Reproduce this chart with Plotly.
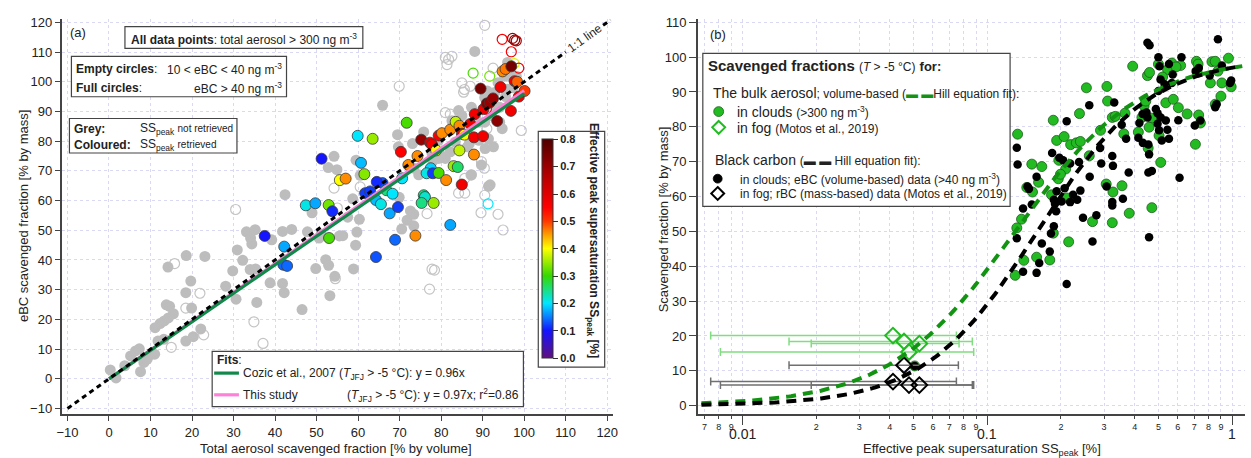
import numpy as np
import plotly.graph_objects as go

W, H = 1251, 458
FONT = "Liberation Sans, Arial, sans-serif"

# ---------------- panel (a): eBC vs total aerosol scavenged fraction ----------------
grey_full_x = [0.3, 1.7, 3.8, 5.2, 6.4, 7.3, 7.6, 8.4, 9.2, 10.2, 11.0, 11.1, 12.3, 13.3, 13.8, 14.6, 14.2,
               15.5, 14.3, 11.8, 13.2, 18.5, 18.5, 18.6, 19.7, 19.9, 20.3, 22.1, 23.1, 28.1, 29.8, 30.6,
               30.9, 32.2, 33.1, 34.1, 34.4, 34.0, 35.3, 35.2, 35.6, 38.8, 39.2,
               41.8, 41.8, 42.2, 42.4, 44.0, 46.5, 47.8, 48.9, 49.8, 50.6, 52.2, 52.9, 53.2, 52.8, 54.2,
               54.9, 54.4, 55.5, 57.5, 58.7, 58.9, 59.4, 59.7, 59.5, 60.3, 60.5, 51.1, 56.3, 65.9,
               88.1, 71.8, 73.4, 70.5, 72.6, 69.9, 69.5, 69.7, 73.1, 73.4, 74.6, 78.0, 79.4, 81.0, 82.2,
               86.3, 86.8, 89.1, 90.6, 92.6, 91.4, 89.1, 88.3, 90.5, 87.3, 90.5, 91.1, 92.9, 93.7, 95.3,
               96.0, 96.8, 98.1, 97.3, 94.1, 94.1, 94.7, 92.1, 85.0, 84.2, 82.6, 86.4, 83.4, 79.4, 75.8,
               77.8, 79.8, 89.7, 87.3, 91.4, 91.8, 73.4, 95.5, 93.0, 96.0]
grey_full_y = [3.0, 0.3, 4.4, 7.7, 9.4, 10.1, 2.4, 5.5, 6.6, 8.3, 8.3, 17.2, 18.6, 19.5, 24.9, 24.4, 37.6,
               21.9, 20.5, 12.7, 13.3, 12.7, 29.0, 41.5, 32.9, 23.8, 14.2, 16.8, 41.2, 31.2, 36.3, 26.8,
               43.4, 39.9, 49.5, 47.4, 45.4, 36.8, 37.0, 50.2, 25.7, 32.3, 46.8,
               49.6, 32.1, 29.0, 62.0, 50.3, 23.3, 49.5, 55.9, 37.1, 47.4, 40.1, 38.2, 28.0, 71.1, 74.9,
               70.4, 34.5, 48.1, 54.4, 60.6, 37.0, 45.0, 49.4, 73.6, 53.7, 68.5, 48.7, 48.2, 92.1,
               110.2, 53.4, 51.5, 50.4, 56.5, 61.1, 82.2, 78.1, 79.2, 70.9, 68.7, 73.3, 74.2, 74.2, 76.4,
               78.1, 79.2, 80.3, 77.5, 78.1, 80.8, 86.4, 88.1, 86.4, 91.4, 94.7, 96.9, 96.4, 99.7, 101.9,
               106.5, 101.9, 101.9, 98.0, 91.4, 86.4, 84.2, 88.6, 88.6, 90.3, 86.9, 82.5, 79.7, 80.3, 83.1,
               75.9, 75.5, 72.0, 68.7, 64.8, 65.3, 55.4, 95.0, 92.0, 97.5]

grey_empty_x = [15.8, 18.5, 21.9, 22.8, 15.0, 30.5, 34.9, 37.1, 54.2, 54.5, 55.0, 60.5, 81.0, 81.8, 82.6,
                81.4, 69.9, 81.0, 82.2, 85.0, 85.6, 87.0, 92.5, 99.3, 89.7, 90.4, 85.7, 87.2, 84.8, 84.2,
                85.7, 90.5, 89.6, 93.7, 94.9, 76.6, 77.8, 78.4, 77.2, 91.0, 90.5, 85.4]
grey_empty_y = [38.8, 23.8, 28.8, 14.8, 10.6, 57.0, 19.2, 11.9, 64.2, 33.7, 57.5, 64.6, 108.2, 107.5, 108.6,
                105.8, 98.5, 89.6, 89.1, 99.6, 97.4, 98.5, 104.6, 83.6, 73.1, 70.9, 67.5, 68.6, 65.4, 62.5,
                62.5, 61.8, 55.9, 55.4, 50.1, 55.6, 36.9, 36.6, 30.2, 84.2, 119.0, 96.5]

col_full_x = [51.2, 59.9, 63.5, 60.7, 61.5, 55.6, 57.0, 47.4, 49.7, 52.9, 53.8, 37.5, 42.2, 42.0, 42.9,
              53.0, 61.7, 62.9, 64.3, 65.5, 65.9, 66.8, 68.3, 67.6, 69.6, 64.3, 68.9, 73.8, 71.7, 70.3,
              72.1, 74.3, 75.2, 77.3, 77.8, 78.8, 79.4, 80.2, 82.2, 83.5, 84.4, 85.0, 85.6, 84.4, 87.0,
              87.9, 88.1, 89.5, 90.2, 91.0, 91.7, 92.5, 93.5, 94.3, 94.8, 95.5, 96.9, 97.7, 98.3, 98.7,
              96.8, 100.1, 87.9, 77.5, 76.5, 78.0, 79.4, 83.0, 84.0, 81.2, 85.0, 75.8, 76.1, 75.3, 78.2,
              82.2, 70.6, 64.5, 90.1]
col_full_y = [74.1, 81.8, 80.8, 72.7, 68.9, 66.9, 67.4, 58.4, 59.1, 58.5, 56.4, 48.1, 44.5, 38.4, 38.0,
              47.4, 62.5, 63.1, 60.2, 58.8, 65.9, 63.5, 62.3, 55.7, 57.8, 41.0, 46.8, 48.2, 86.2, 76.4,
              72.0, 75.0, 80.5, 79.5, 78.8, 76.9, 81.9, 82.7, 83.9, 86.5, 85.2, 82.5, 82.2, 76.9, 85.8,
              81.3, 89.1, 97.7, 90.8, 92.7, 93.0, 94.4, 86.8, 98.2, 103.5, 104.3, 105.2, 100.2, 100.0, 95.0,
              90.2, 96.9, 75.5, 70.9, 69.2, 69.2, 69.3, 71.6, 71.3, 66.9, 65.4, 61.8, 61.2, 59.2, 59.2,
              51.8, 67.5, 66.3, 81.7]
col_full_ss = [0.10, 0.20, 0.35, 0.18, 0.34, 0.40, 0.46, 0.21, 0.17, 0.33, 0.11, 0.10, 0.17, 0.14, 0.14,
               0.31, 0.12, 0.12, 0.18, 0.21, 0.13, 0.25, 0.20, 0.17, 0.12, 0.13, 0.14, 0.46, 0.31, 0.55,
               0.46, 0.46, 0.70, 0.60, 0.56, 0.40, 0.56, 0.46, 0.46, 0.37, 0.46, 0.57, 0.40, 0.37, 0.57,
               0.57, 0.57, 0.75, 0.57, 0.72, 0.70, 0.70, 0.72, 0.57, 0.46, 0.47, 0.75, 0.57, 0.48, 0.57,
               0.57, 0.50, 0.46, 0.19, 0.21, 0.12, 0.31, 0.35, 0.26, 0.46, 0.57, 0.25, 0.22, 0.25, 0.35,
               0.17, 0.20, 0.11, 0.57]

col_empty_x = [94.7, 97.2, 97.7, 98.1, 96.9, 97.6, 98.7, 87.7, 91.7, 90.9, 91.3]
col_empty_y = [114.3, 114.6, 114.0, 113.8, 110.1, 106.1, 104.6, 102.9, 101.9, 90.8, 58.9]
col_empty_ss = [0.56, 0.70, 0.72, 0.68, 0.56, 0.38, 0.56, 0.31, 0.33, 0.58, 0.20]

fit_x = [0, 100]
slope_cozic = 0.96
slope_study = 0.97
one_to_one_lo = [-10, 110]
one_to_one_hi = [119, 120.8]

# ---------------- panel (b): scavenged fraction vs SS_peak ----------------
bulk_cloud_ss = [0.133, 0.186, 0.238, 0.310, 0.192, 0.206, 0.219, 0.231, 0.240, 0.261, 0.290, 0.324, 0.333,
                 0.365, 0.428, 0.437, 0.444, 0.470, 0.458, 0.536, 0.575, 0.603, 0.655, 0.730, 0.742, 0.708,
                 0.853, 0.900, 0.414, 0.361, 0.503, 0.511, 0.454, 0.152, 0.167, 0.162, 0.153, 0.145, 0.138,
                 0.132, 0.141, 0.130, 0.159, 0.180, 0.186, 0.215, 0.211, 0.183, 0.196, 0.209, 0.195, 0.199,
                 0.306, 0.326, 0.355, 0.380, 0.324, 0.269, 0.470,
                 0.3925, 0.50, 0.567, 0.616, 0.715, 0.726, 0.827, 0.853, 0.966, 0.875, 0.815, 0.908, 0.991,
                 0.451, 0.46, 0.545, 0.59, 0.72, 0.52, 0.254, 0.308, 0.0505]
bulk_cloud_sf = [77.9, 81.9, 83.8, 87.4, 76.1, 77.2, 74.9, 75.4, 75.8, 71.7, 79.0, 82.7, 83.0,
                 83.9, 82.7, 86.0, 87.4, 82.5, 79.9, 86.9, 87.9, 85.5, 83.7, 83.4, 81.1, 75.0,
                 86.5, 88.8, 78.5, 78.0, 77.5, 69.8, 73.9, 69.3, 68.6, 64.1, 61.3, 62.6, 53.5,
                 51.0, 41.7, 37.4, 42.6, 41.8, 49.5, 47.0, 59.6, 60.5, 70.4, 67.9, 65.1, 66.4,
                 63.6, 61.3, 63.1, 55.2, 52.5, 52.8, 56.8,
                 97.4, 98.0, 98.3, 97.6, 98.8, 98.0, 98.7, 98.8, 99.7, 96.0, 92.6, 92.6, 91.5,
                 94.7, 95.6, 96.4, 97.2, 95.6, 94.3, 91.2, 91.6, 11.4]

bc_cloud_ss = [0.261, 0.211, 0.132, 0.133, 0.184, 0.197, 0.204, 0.218, 0.237, 0.262, 0.289, 0.292, 0.324,
               0.326, 0.378, 0.354, 0.369, 0.414, 0.432, 0.455, 0.458, 0.455, 0.470, 0.418, 0.431, 0.447,
               0.451, 0.488, 0.496, 0.496, 0.511, 0.503, 0.536, 0.544, 0.516, 0.552, 0.603, 0.610, 0.704,
               0.742, 0.864, 0.853, 0.159, 0.146, 0.148, 0.140, 0.152, 0.187, 0.192, 0.189, 0.201, 0.207,
               0.218, 0.224, 0.233, 0.240, 0.246, 0.279, 0.324, 0.324, 0.358, 0.307, 0.191, 0.187, 0.182,
               0.167, 0.180, 0.163, 0.159, 0.140, 0.132, 0.211, 0.458, 0.269,
               0.451, 0.46, 0.875, 0.50, 0.621, 0.552, 0.505, 0.731, 0.908, 0.991, 0.71, 0.81, 0.572,
               0.51, 0.53, 0.567, 0.50, 0.98, 0.33, 0.0505]
bc_cloud_sf = [86.2, 81.6, 74.0, 69.2, 72.5, 71.1, 70.4, 69.5, 69.9, 65.7, 73.9, 69.5, 71.6,
               68.8, 66.9, 80.6, 76.6, 76.9, 75.4, 74.9, 72.1, 66.9, 67.3, 81.1, 83.7, 84.1,
               82.7, 85.1, 83.9, 80.9, 82.7, 79.0, 81.8, 79.2, 76.1, 76.6, 81.9, 65.4, 80.4,
               81.8, 86.5, 85.6, 65.7, 62.9, 62.2, 56.6, 57.7, 59.1, 61.5, 57.9, 58.6, 62.4,
               58.4, 60.5, 59.1, 61.7, 53.9, 54.6, 58.4, 57.4, 59.4, 62.9, 55.8, 51.5, 49.4,
               46.5, 44.2, 40.9, 38.1, 38.4, 48.0, 34.9, 48.3, 47.1,
               104.1, 103.4, 105.1, 100.0, 100.0, 98.0, 97.4, 96.9, 97.6, 93.3, 96.0, 94.7, 95.0,
               93.6, 92.2, 92.6, 90.3, 92.6, 87.0, 11.4]

fog_bulk_ss = [0.0412, 0.0457, 0.0528, 0.0479]
fog_bulk_sf = [20.1, 18.4, 17.8, 15.4]
fog_bulk_ss_lo = [0.00742, 0.0155, 0.0191, 0.00813]
fog_bulk_ss_hi = [0.0748, 0.0869, 0.0767, 0.0880]

fog_bc_ss = [0.0457, 0.0412, 0.0479, 0.0528]
fog_bc_sf = [11.6, 6.9, 5.9, 5.9]
fog_bc_ss_lo = [0.0155, 0.00742, 0.00813, 0.0191]
fog_bc_ss_hi = [0.0762, 0.0748, 0.0880, 0.0869]

# Hill equation fit parameters: (max, half-saturation SS, Hill coefficient)
hill_bulk = (100.0, 0.13, 1.7)
hill_bc = (100.0, 0.16, 1.9)

ss_minor_ticks = [0.007, 0.008, 0.009, 0.02, 0.03, 0.04, 0.05, 0.06, 0.07, 0.08, 0.09,
                  0.2, 0.3, 0.4, 0.5, 0.6, 0.7, 0.8, 0.9]
ss_minor_labels = ["7", "8", "9", "2", "3", "4", "5", "6", "7", "8", "9",
                   "2", "3", "4", "5", "6", "7", "8", "9"]
ss_decades = [0.01, 0.1, 1]
ss_decade_labels = ["0.01", "0.1", "1"]

cb_ticks = [0.0, 0.1, 0.2, 0.3, 0.4, 0.5, 0.6, 0.7, 0.8]

# Igor-style rainbow for SS_peak (0 .. 0.8 %)
ss_scale = [[0.0, "#60107f"], [0.125, "#1414ff"], [0.25, "#00e6ff"], [0.375, "#34d800"],
            [0.5, "#ffff00"], [0.5625, "#ffa000"], [0.625, "#ff3800"], [0.6875, "#ff0000"],
            [0.8125, "#c00000"], [1.0, "#500000"]]


def hill(x, p):
    ymax, k, n = p
    x = np.asarray(x)
    return ymax * x ** n / (k ** n + x ** n)


def PX(x):
    return x / W


def PY(y):
    return 1 - y / H


fig = go.Figure()

# --- panel (a) traces ---
fig.add_trace(go.Scatter(x=grey_empty_x, y=grey_empty_y, mode="markers", xaxis="x", yaxis="y",
                         marker=dict(symbol="circle-open", size=10, color="#c4c4c4", line=dict(width=1.2)),
                         showlegend=False))
fig.add_trace(go.Scatter(x=grey_full_x, y=grey_full_y, mode="markers", xaxis="x", yaxis="y",
                         marker=dict(size=11, color="#bdbdbd", line=dict(width=0)), showlegend=False))
fig.add_trace(go.Scatter(x=col_empty_x, y=col_empty_y, mode="markers", xaxis="x", yaxis="y",
                         marker=dict(symbol="circle-open", size=10, color=col_empty_ss, colorscale=ss_scale,
                                     cmin=0, cmax=0.8, line=dict(width=1.2), showscale=False),
                         showlegend=False))
fig.add_trace(go.Scatter(
    x=col_full_x, y=col_full_y, mode="markers", xaxis="x", yaxis="y",
    marker=dict(size=11, color=col_full_ss, colorscale=ss_scale, cmin=0, cmax=0.8,
                line=dict(width=0.8, color="#3a3a3a"), showscale=True,
                colorbar=dict(x=PX(541), xanchor="left", y=PY(248), yanchor="middle",
                              len=222 / H, lenmode="fraction", thickness=11, xpad=0, ypad=0,
                              outlinewidth=1, outlinecolor="#333",
                              tickmode="array", tickvals=cb_ticks,
                              ticktext=["<b>%.1f</b>" % v for v in cb_ticks],
                              ticks="outside", ticklen=5, tickcolor="#333",
                              tickfont=dict(family=FONT, size=11, color="#222"))),
    showlegend=False))

fit_x_arr = np.asarray(fit_x, dtype=float)
fig.add_trace(go.Scatter(x=fit_x_arr, y=slope_study * fit_x_arr, mode="lines", xaxis="x", yaxis="y",
                         line=dict(color="#ff80d8", width=3.2), showlegend=False))
fig.add_trace(go.Scatter(x=fit_x_arr, y=slope_cozic * fit_x_arr, mode="lines", xaxis="x", yaxis="y",
                         line=dict(color="#12884a", width=3.2), showlegend=False))
for seg in (one_to_one_lo, one_to_one_hi):
    fig.add_trace(go.Scatter(x=seg, y=seg, mode="lines", xaxis="x", yaxis="y",
                             line=dict(color="black", width=3, dash="5px,4px"), showlegend=False))

# --- panel (b) traces ---
fig.add_trace(go.Scatter(x=bulk_cloud_ss, y=bulk_cloud_sf, mode="markers", xaxis="x2", yaxis="y2",
                         marker=dict(size=10, color="#22bb22", line=dict(width=0.8, color="#1d5e1d")),
                         showlegend=False))
fig.add_trace(go.Scatter(x=bc_cloud_ss, y=bc_cloud_sf, mode="markers", xaxis="x2", yaxis="y2",
                         marker=dict(size=8.5, color="black"), showlegend=False))

fb_x = np.asarray(fog_bulk_ss)
fig.add_trace(go.Scatter(
    x=fog_bulk_ss, y=fog_bulk_sf, mode="markers", xaxis="x2", yaxis="y2",
    error_x=dict(type="data", symmetric=False, array=np.asarray(fog_bulk_ss_hi) - fb_x,
                 arrayminus=fb_x - np.asarray(fog_bulk_ss_lo), color="#80dd80", thickness=1.5, width=4),
    marker=dict(symbol="diamond-open", size=12, color="#22bb22", line=dict(width=2)),
    showlegend=False))
fc_x = np.asarray(fog_bc_ss)
fig.add_trace(go.Scatter(
    x=fog_bc_ss, y=fog_bc_sf, mode="markers", xaxis="x2", yaxis="y2",
    error_x=dict(type="data", symmetric=False, array=np.asarray(fog_bc_ss_hi) - fc_x,
                 arrayminus=fc_x - np.asarray(fog_bc_ss_lo), color="#707070", thickness=1.5, width=4),
    marker=dict(symbol="diamond-open", size=12, color="black", line=dict(width=2)),
    showlegend=False))

ss_curve = np.logspace(np.log10(0.0068), np.log10(1.1), 200)
fig.add_trace(go.Scatter(x=ss_curve, y=hill(ss_curve, hill_bulk), mode="lines", xaxis="x2", yaxis="y2",
                         line=dict(color="#129412", width=4, dash="10px,7px"), showlegend=False))
fig.add_trace(go.Scatter(x=ss_curve, y=hill(ss_curve, hill_bc), mode="lines", xaxis="x2", yaxis="y2",
                         line=dict(color="black", width=4, dash="10px,7px"), showlegend=False))

# --- axes ---
grid = dict(showgrid=True, gridcolor="#d9d9f6", griddash="dot", gridwidth=1)
axline = dict(showline=True, linecolor="#444", linewidth=1.5, ticks="outside", tickcolor="#444",
              tickwidth=1.3, zeroline=False, tickfont=dict(family=FONT, size=13, color="#222"))
ydom = [PY(415), PY(15)]

fig.update_layout(
    width=W, height=H, margin=dict(l=0, r=0, t=0, b=0),
    paper_bgcolor="white", plot_bgcolor="white", showlegend=False,
    font=dict(family=FONT, color="#222"),
    xaxis=dict(domain=[PX(57), PX(612)], range=[-11.2, 121.3], tickmode="linear", tick0=-10, dtick=10,
               ticklen=6, anchor="y", **grid, **axline),
    yaxis=dict(domain=ydom, range=[-11.7, 121.2], tickmode="linear", tick0=-10, dtick=10,
               ticklen=6, anchor="x", **grid, **axline),
    xaxis2=dict(domain=[PX(698), PX(1250)], type="log", range=[-2.182, 0.0526], anchor="y2",
                tickmode="array", tickvals=ss_minor_ticks, ticktext=ss_minor_labels, ticklen=4,
                minor=dict(tickmode="array", tickvals=ss_decades, ticklen=10, ticks="outside",
                           tickcolor="#444", tickwidth=1.3, showgrid=True, gridcolor="#d9d9f6",
                           griddash="dot"),
                **grid, **{k: v for k, v in axline.items() if k != "tickfont"},
                tickfont=dict(family=FONT, size=9, color="#222")),
    yaxis2=dict(domain=ydom, range=[-2.27, 111.0], tickmode="linear", tick0=0, dtick=10,
                ticklen=7, anchor="x2", **grid, **axline),
)

# --- boxes (legends / labels) ---
shapes = []


def box(x0, y0, x1, y1):
    shapes.append(dict(type="rect", xref="paper", yref="paper", x0=PX(x0), x1=PX(x1), y0=PY(y1), y1=PY(y0),
                       line=dict(color="#444", width=1.2), fillcolor="white", layer="above"))


box(120, 23, 360, 45)
box(66, 53, 283, 94)
box(64, 116, 233, 151)
box(208, 352, 522, 408)
box(537, 129, 604, 368)
box(703, 50, 1013, 205)

for yy, col in ((374, "#12884a"), (396, "#ff80d8")):
    shapes.append(dict(type="line", xref="paper", yref="paper", x0=PX(210), x1=PX(235), y0=PY(yy), y1=PY(yy),
                       line=dict(color=col, width=3.2), layer="above"))


def circle(cx, cy, r, fill, line):
    shapes.append(dict(type="circle", xref="paper", yref="paper", x0=PX(cx - r), x1=PX(cx + r),
                       y0=PY(cy + r), y1=PY(cy - r), fillcolor=fill, line=dict(color=line, width=0.8),
                       layer="above"))


def diamond(cx, cy, r, col):
    path = "M %f,%f L %f,%f L %f,%f L %f,%f Z" % (PX(cx), PY(cy - r), PX(cx + r), PY(cy), PX(cx), PY(cy + r),
                                                 PX(cx - r), PY(cy))
    shapes.append(dict(type="path", xref="paper", yref="paper", path=path, fillcolor="rgba(0,0,0,0)",
                       line=dict(color=col, width=2), layer="above"))


circle(719, 109, 5, "#22bb22", "#1d5e1d")
diamond(719, 125, 6.5, "#22bb22")
circle(718, 177, 4.5, "black", "black")
diamond(718, 192, 6.5, "black")

fig.update_layout(shapes=shapes)

# --- texts ---
ann = []


def text(x, y, s, size=12, anchor="left", angle=0, color="#222"):
    ann.append(dict(x=PX(x), y=PY(y), xref="paper", yref="paper", text=s, showarrow=False,
                    xanchor=anchor, yanchor="middle", textangle=angle,
                    font=dict(family=FONT, size=size, color=color)))


text(63, 29, "(a)", 13)
text(240, 35, "<b>All data points</b>: total aerosol &gt; 300 ng m<sup>-3</sup>", 12, "center")
text(69, 66, "<b>Empty circles</b>:", 12)
text(280, 66, "10 &lt; eBC &lt; 40 ng m<sup>-3</sup>", 12, "right")
text(69, 85, "<b>Full circles</b>:", 12)
text(280, 85, "eBC &gt; 40 ng m<sup>-3</sup>", 12, "right")
text(67, 127, "<b>Grey:</b>", 12)
text(133, 127, "SS<sub>peak</sub> <span style='font-size:10px'>not retrieved</span>", 12)
text(67, 143, "<b>Coloured:</b>", 12)
text(133, 143, "SS<sub>peak</sub> <span style='font-size:10px'>retrieved</span>", 12)
text(211, 361, "<b>Fits</b>:", 12)
text(237, 375, "Cozic et al., 2007 (<i>T</i><sub>JFJ</sub> &gt; -5 °C): y = 0.96x", 12)
text(237, 396, "This study", 12)
text(520, 396, "(<i>T</i><sub>JFJ</sub> &gt; -5 °C): y = 0.97x; r<sup>2</sup>=0.86", 12, "right")
text(592, 240, "<b>Effective peak supersaturation SS<sub>peak</sub> [%]</b>", 12, "center", 90)
text(333, 450, "Total aerosol scavenged fraction [% by volume]", 13, "center")
text(17, 215, "eBC scavenged fraction [% by mass]", 13, "center", -90)

text(708, 31, "(b)", 13)
text(706, 62, "<b>Scavenged fractions</b> <span style='font-size:12px'>(<i>T</i> &gt; -5 °C)</span> "
              "<span style='font-size:13px'><b>for:</b></span>", 15)
text(711, 90, "The bulk aerosol<span style='font-size:12px'>; volume-based (<span style='color:#129412'>"
              "<b>▬ ▬</b></span>Hill equation fit):</span>", 14)
text(735, 109, "in clouds <span style='font-size:12px'>(&gt;300 ng m<sup>-3</sup>)</span>", 14)
text(735, 126, "in fog <span style='font-size:12px'>(Motos et al., 2019)</span>", 14)
text(713, 158, "Black carbon <span style='font-size:12px'>(<b>▬ ▬</b> Hill equation fit):</span>", 14)
text(738, 177, "in clouds; eBC (volume-based) data (&gt;40 ng m<sup>-3</sup>)", 12)
text(738, 193, "in fog; rBC (mass-based) data (Motos et al., 2019)", 12)
text(985, 451, "Effective peak supersaturation SS<sub>peak</sub> [%]", 13, "center")
text(663, 218, "Scavenged fraction [% by mass]", 13, "center", -90)

for v, lab in zip(ss_decades, ss_decade_labels):
    ann.append(dict(x=np.log10(v), y=PY(436), xref="x2", yref="paper", text=lab, showarrow=False,
                    xanchor="center", yanchor="middle", font=dict(family=FONT, size=14, color="#222")))

ann.append(dict(x=114.6, y=114.9, xref="x", yref="y", text="1:1 line", showarrow=False, textangle=-35.7,
                xanchor="center", yanchor="middle", font=dict(family=FONT, size=12, color="#222")))

fig.update_layout(annotations=ann)

fig.write_html("out.html")
